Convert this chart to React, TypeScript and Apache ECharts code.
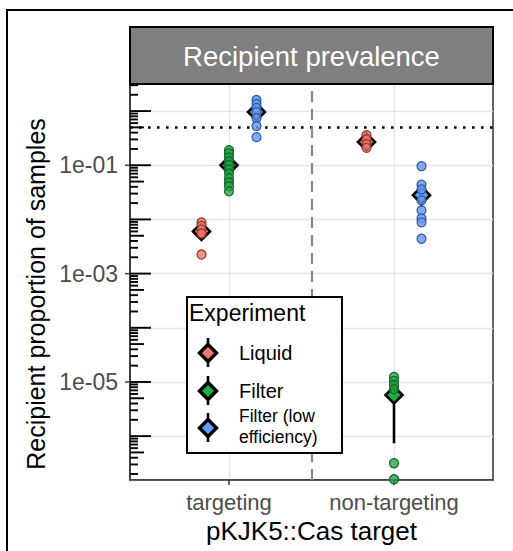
import React, { useEffect, useRef } from 'react';
import * as echarts from 'echarts';

// Categories on the x axis and the experiment groups dodged within them
const CATEGORIES = ['targeting', 'non-targeting'];
const EXPERIMENTS = ['Liquid', 'Filter', 'Filter (low efficiency)'];
const LEGEND_LABELS = ['Liquid', 'Filter', 'Filter (low\nefficiency)'];

// Per-sample recipient proportions: [targeting samples, non-targeting samples]
const LIQUID_SAMPLES = [
  [8.8e-3, 7.7e-3, 6.5e-3, 5.5e-3, 2.25e-3],
  [0.36, 0.3, 0.245, 0.21],
];
const FILTER_SAMPLES = [
  [0.19, 0.167, 0.14, 0.119, 0.1, 0.084, 0.071, 0.057, 0.048, 0.041, 0.033],
  [1.24e-5, 1.05e-5, 8.8e-6, 7.4e-6, 3.16e-7, 1.6e-7],
];
const LOW_EFF_SAMPLES = [
  [1.6, 1.35, 1.14, 0.96, 0.74, 0.53, 0.33],
  [0.096, 0.044, 0.036, 0.0225, 0.0147, 0.0104, 0.0088, 0.0044],
];

// Group means and their error ranges: [targeting, non-targeting]
const LIQUID_MEAN = [6.0e-3, 0.27];
const LIQUID_LOW = [4.9e-3, 0.24];
const LIQUID_HIGH = [7.1e-3, 0.3];
const FILTER_MEAN = [0.1, 5.75e-6];
const FILTER_LOW = [0.085, 7.4e-7];
const FILTER_HIGH = [0.117, 1.08e-5];
const LOW_EFF_MEAN = [0.96, 0.028];
const LOW_EFF_LOW = [0.78, 0.017];
const LOW_EFF_HIGH = [1.13, 0.039];

// Reference level drawn as a dotted line
const THRESHOLD = 0.5;

// Y tick labels shown on the log axis
const Y_LABELS = [1e-5, 1e-3, 1e-1];

const SAMPLES = [LIQUID_SAMPLES, FILTER_SAMPLES, LOW_EFF_SAMPLES];
const MEANS = [LIQUID_MEAN, FILTER_MEAN, LOW_EFF_MEAN];
const LOWS = [LIQUID_LOW, FILTER_LOW, LOW_EFF_LOW];
const HIGHS = [LIQUID_HIGH, FILTER_HIGH, LOW_EFF_HIGH];

const X_MIN = 0.4;
const X_MAX = 2.6;
const Y_MIN = 1.55e-7;
const Y_MAX = 3.16;
const DODGE = [-1 / 6, 0, 1 / 6];

const FILL = ['#F8766D', '#1FAE45', '#619CFF'];
const POINT_FILL = ['rgba(238,114,108,0.78)', 'rgba(34,160,64,0.75)', 'rgba(102,152,236,0.82)'];
const POINT_EDGE = ['#8e3b37', '#11672a', '#2f5aa6'];

const FONT = '"Liberation Sans", Arial, Helvetica, sans-serif';

function formatExp(v: number): string {
  const e = Math.round(Math.log10(v));
  const sign = e < 0 ? '-' : '+';
  return `1e${sign}${String(Math.abs(e)).padStart(2, '0')}`;
}

function isLabelled(v: number): boolean {
  return Y_LABELS.some((t) => Math.abs(Math.log10(v) - Math.log10(t)) < 1e-6);
}

// Rows for the log-tick annotation along the left edge: [x, value, kind]
// kind 0 = short (2..9), 1 = mid (5), 2 = long (decade), 3 = outer label tick
function logTickRows(): number[][] {
  const rows: number[][] = [];
  for (let k = -8; k <= 1; k++) {
    for (let m = 1; m <= 9; m++) {
      const v = m * Math.pow(10, k);
      if (v < Y_MIN || v > Y_MAX) continue;
      rows.push([X_MIN, v, m === 1 ? 2 : m === 5 ? 1 : 0]);
    }
  }
  Y_LABELS.forEach((v) => rows.push([X_MIN, v, 3]));
  return rows;
}

const TICK_LEN = [8, 14, 21, -5];

function buildOption(): echarts.EChartsOption {
  const series: any[] = [];

  series.push({
    type: 'custom',
    name: 'logticks',
    silent: true,
    clip: false,
    z: 6,
    encode: { x: 0, y: 1 },
    data: logTickRows(),
    renderItem: (_p: any, api: any) => {
      const pt = api.coord([api.value(0), api.value(1)]);
      const kind = api.value(2);
      const len = TICK_LEN[kind];
      return {
        type: 'line',
        shape: { x1: pt[0], y1: pt[1], x2: pt[0] + len, y2: pt[1] },
        style: { stroke: kind === 3 ? '#333' : '#000', lineWidth: kind === 3 ? 1.4 : 1.9 },
      };
    },
  });

  EXPERIMENTS.forEach((name, g) => {
    const bars = CATEGORIES.map((_, c) => [c + 1 + DODGE[g], LOWS[g][c], HIGHS[g][c]]);
    series.push({
      type: 'custom',
      name: name + ' range',
      silent: true,
      z: 3,
      encode: { x: 0, y: [1, 2] },
      data: bars,
      renderItem: (_p: any, api: any) => {
        const a = api.coord([api.value(0), api.value(1)]);
        const b = api.coord([api.value(0), api.value(2)]);
        return {
          type: 'line',
          shape: { x1: a[0], y1: a[1], x2: b[0], y2: b[1] },
          style: { stroke: '#000', lineWidth: 2.6 },
        };
      },
    });
    series.push({
      type: 'scatter',
      name: name + ' mean',
      symbol: 'diamond',
      symbolSize: 17,
      z: 4,
      data: CATEGORIES.map((_, c) => [c + 1 + DODGE[g], MEANS[g][c]]),
      itemStyle: { color: FILL[g], borderColor: '#000', borderWidth: 2.6, opacity: 1 },
    });
    const pts: number[][] = [];
    CATEGORIES.forEach((_, c) => {
      SAMPLES[g][c].forEach((v) => pts.push([c + 1 + DODGE[g], v]));
    });
    series.push({
      type: 'scatter',
      name,
      symbol: 'circle',
      symbolSize: 9,
      z: 5,
      data: pts,
      itemStyle: { color: POINT_FILL[g], borderColor: POINT_EDGE[g], borderWidth: 1.2, opacity: 1 },
      markLine:
        g === 0
          ? {
              silent: true,
              symbol: 'none',
              label: { show: false },
              data: [
                { yAxis: THRESHOLD, lineStyle: { color: '#000', width: 2.6, type: [2.6, 6.4], cap: 'butt' } },
                { xAxis: 1.5, lineStyle: { color: '#8a8a8a', width: 2.2, type: [11, 7], cap: 'butt' } },
              ],
            }
          : undefined,
    });
  });

  // Legend panel drawn on top of the plot
  const LZ = 200;
  const legendItems: any[] = [
    {
      type: 'rect',
      z: LZ,
      shape: { x: 187, y: 297, width: 155, height: 156 },
      style: { fill: '#fff', stroke: '#000', lineWidth: 2 },
    },
    {
      type: 'text',
      z: LZ + 1,
      x: 189,
      y: 313,
      style: { text: 'Experiment', fill: '#000', font: `23px ${FONT}`, verticalAlign: 'middle', align: 'left' },
    },
  ];
  const itemY = [353, 391, 428];
  EXPERIMENTS.forEach((_, g) => {
    const cx = 208;
    const cy = itemY[g];
    legendItems.push({
      type: 'line',
      z: LZ + 1,
      shape: { x1: cx, y1: cy - 15, x2: cx, y2: cy + 14 },
      style: { stroke: '#000', lineWidth: 2.6 },
    });
    legendItems.push({
      type: 'polygon',
      z: LZ + 2,
      shape: { points: [[cx, cy - 8.5], [cx + 8.5, cy], [cx, cy + 8.5], [cx - 8.5, cy]] },
      style: { fill: FILL[g], stroke: '#000', lineWidth: 3.4 },
    });
    legendItems.push({
      type: 'text',
      z: LZ + 1,
      x: 239,
      y: g === 2 ? 426 : cy,
      style: {
        text: LEGEND_LABELS[g],
        fill: '#000',
        font: `${g === 2 ? 17.5 : 20}px ${FONT}`,
        lineHeight: 21,
        verticalAlign: 'middle',
        align: 'left',
      },
    });
  });

  return {
    animation: false,
    backgroundColor: '#fff',
    grid: {
      left: 130,
      right: 20,
      top: 84,
      bottom: 71,
      show: true,
      borderColor: '#333',
      borderWidth: 1.5,
      backgroundColor: 'transparent',
    },
    xAxis: {
      type: 'value',
      min: X_MIN,
      max: X_MAX,
      splitNumber: 2,
      name: 'pKJK5::Cas target',
      nameLocation: 'middle',
      nameGap: 25,
      nameTextStyle: { fontFamily: FONT, fontSize: 26, color: '#000' },
      axisLine: { show: true, lineStyle: { color: '#333', width: 1.5 } },
      axisTick: { show: true, customValues: [1, 2], length: 5, lineStyle: { color: '#333', width: 1.5 } },
      axisLabel: {
        customValues: [1, 2],
        formatter: (v: number) => CATEGORIES[Math.round(v) - 1] ?? '',
        fontFamily: FONT,
        fontSize: 22,
        color: '#4d4d4d',
        margin: 11,
      },
      splitLine: { show: true, lineStyle: { color: '#e6e6e6', width: 1.3 } },
    },
    yAxis: {
      type: 'log',
      logBase: 10,
      min: Y_MIN,
      max: Y_MAX,
      name: 'Recipient proportion of samples',
      nameLocation: 'middle',
      nameGap: 76,
      nameRotate: 90,
      nameTextStyle: { fontFamily: FONT, fontSize: 25, color: '#000', padding: [0, 24, 0, 0] },
      axisLine: { show: true, lineStyle: { color: '#333', width: 1.5 } },
      axisTick: { show: false },
      axisLabel: {
        formatter: (v: number) => (isLabelled(v) ? formatExp(v) : ''),
        fontFamily: FONT,
        fontSize: 23,
        color: '#4d4d4d',
        margin: 12,
      },
      splitLine: { show: true, lineStyle: { color: '#e6e6e6', width: 1.3 } },
    },
    graphic: [
      {
        type: 'polyline',
        z: 0,
        shape: { points: [[7, 700], [7, 10], [700, 10]] },
        style: { fill: 'none', stroke: '#000', lineWidth: 2 },
      },
      {
        type: 'rect',
        z: 100,
        shape: { x: 130, y: 27, width: 363, height: 57 },
        style: { fill: '#7f7f7f', stroke: '#000', lineWidth: 2 },
      },
      {
        type: 'text',
        z: 101,
        x: 311.5,
        y: 56,
        style: {
          text: 'Recipient prevalence',
          fill: '#fff',
          font: `27.5px ${FONT}`,
          align: 'center',
          verticalAlign: 'middle',
        },
      },
      ...legendItems,
    ],
    series,
  };
}

export default function App() {
  const ref = useRef<HTMLDivElement>(null);
  useEffect(() => {
    if (!ref.current) return;
    const chart = echarts.init(ref.current, undefined, { renderer: 'svg' });
    chart.setOption(buildOption());
    return () => chart.dispose();
  }, []);
  return (
    <div
      ref={ref}
      style={{ position: 'absolute', left: 0, top: 0, width: 513, height: 551, background: '#fff' }}
    />
  );
}
